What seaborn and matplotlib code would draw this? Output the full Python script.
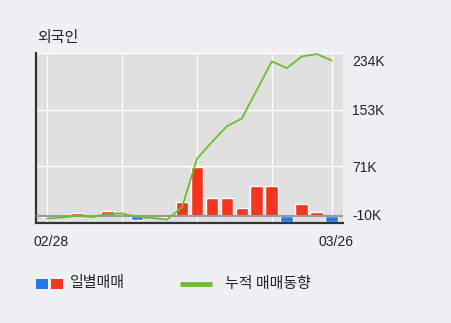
import matplotlib
matplotlib.use("Agg")
import matplotlib.pyplot as plt
import matplotlib.transforms as mtransforms
from matplotlib.patches import Rectangle
from matplotlib.lines import Line2D
import numpy as np
import pandas as pd
import seaborn as sns

# Trading days shown on the chart
dates = ["02/28", "03/02", "03/03", "03/04", "03/05", "03/06", "03/09",
         "03/10", "03/11", "03/12", "03/13", "03/16", "03/17", "03/18",
         "03/19", "03/20", "03/23", "03/24", "03/25", "03/26"]

# Daily net trading by foreign investors (thousand shares)
daily = [-1.0, 2.0, 4.5, 0.5, 7.8, 1.2, -5.0, -0.5, -0.8, 19.6,
         70.2, 25.4, 25.4, 11.0, 42.8, 42.8, -9.2, 16.8, 5.2, -9.2]

# Cumulative net trading (thousand shares)
cumulative = [-3.5, -2.0, 0.4, -1.5, 2.9, 3.8, -1.5, -2.9, -5.0, 12.6,
              82.3, 106.3, 128.9, 140.0, 181.0, 221.9, 212.3, 229.0, 232.5, 223.3]

# Right-hand axis ticks
ytick_values = [-10.0, 71.33, 152.67, 234.0]
ytick_labels = ["-10K", "71K", "153K", "234K"]
xtick_labels = ["02/28", "03/26"]

BLUE = "#2079ea"
RED = "#f2361e"
GREEN = "#6cbd2a"
FIG_BG = "#eef0f3"
AX_BG = "#e0e0e0"

sns.set_theme(style="white")
plt.rcParams["font.family"] = ["Liberation Sans", "Noto Sans CJK KR", "DejaVu Sans"]
KFONT = ["Noto Sans CJK KR", "DejaVu Sans"]

df = pd.DataFrame({
    "date": dates,
    "pos": np.arange(len(dates)),
    "daily": daily,
    "cumulative": cumulative,
})
df["side"] = np.where(df["daily"] < 0, "sell", "buy")

fig = plt.figure(figsize=(4.51, 3.23), dpi=100, facecolor=FIG_BG)
W, H = 451.0, 323.0
ax = fig.add_axes([36 / W, 1 - 223 / H, (343 - 36) / W, (223 - 53) / H])
ax.set_facecolor(AX_BG)

sns.barplot(data=df, x="date", y="daily", hue="side", order=dates,
            palette={"buy": RED, "sell": BLUE}, dodge=False, width=0.85,
            legend=False, saturation=1, ax=ax, zorder=2)

ax.axhline(0, color="#9a9a9a", lw=1.6, zorder=3)

sns.lineplot(data=df, x="pos", y="cumulative", color=GREEN, lw=1.3,
             ax=ax, zorder=4)

ax.set_xlim(-0.755, len(dates) - 1 + 0.755)
ax.set_ylim(-10, 234)

# grid
for gx in [0, 5, 10, 15, len(dates) - 1]:
    ax.axvline(gx, color="white", lw=1.0, zorder=1)
for gy in ytick_values[1:]:
    ax.axhline(gy, color="white", lw=1.0, zorder=1)

# spines
for s in ["top", "right"]:
    ax.spines[s].set_visible(False)
ax.spines["left"].set_color("#333333")
ax.spines["left"].set_linewidth(1.6)
ax.spines["bottom"].set_color("#333333")
ax.spines["bottom"].set_linewidth(1.6)

# y ticks on the right
ax.yaxis.tick_right()
ax.set_yticks(ytick_values)
ax.set_yticklabels(ytick_labels)
ax.tick_params(axis="y", length=0, pad=6.5, labelsize=10, labelcolor="#222222")
ylabels = ax.get_yticklabels()
ylabels[0].set_transform(ylabels[0].get_transform() +
                         mtransforms.ScaledTranslation(0, 8.5 / 100, fig.dpi_scale_trans))
ylabels[-1].set_transform(ylabels[-1].get_transform() +
                          mtransforms.ScaledTranslation(0, -7 / 100, fig.dpi_scale_trans))

# x ticks: first and last day
ax.set_xticks([0, len(dates) - 1])
ax.set_xticklabels(xtick_labels)
ax.tick_params(axis="x", length=0, pad=9, labelsize=10, labelcolor="#222222")
for lab in ax.get_xticklabels():
    lab.set_transform(lab.get_transform() +
                      mtransforms.ScaledTranslation(4 / 100, 0, fig.dpi_scale_trans))
ax.set_xlabel("")
ax.set_ylabel("")

# title
fig.text(37 / W, 1 - 38 / H, "외국인", family=KFONT, fontsize=10.8,
         color="#222222", va="center", ha="left")

# legend
def px_rect(x0, y0, x1, y1, color):
    fig.add_artist(Rectangle((x0 / W, 1 - y1 / H), (x1 - x0) / W, (y1 - y0) / H,
                             transform=fig.transFigure, color=color, lw=0))

px_rect(36, 278.5, 48, 288.5, BLUE)
px_rect(51, 278.5, 63, 288.5, RED)
fig.text(70 / W, 1 - 283.5 / H, "일별매매", family=KFONT, fontsize=10.8,
         color="#222222", va="center", ha="left")
fig.add_artist(Line2D([180 / W, 212 / W], [1 - 283.5 / H, 1 - 283.5 / H],
                      transform=fig.transFigure, color=GREEN, lw=3.4,
                      solid_capstyle="butt"))
fig.text(225 / W, 1 - 283.5 / H, "누적 매매동향", family=KFONT, fontsize=10.8,
         color="#222222", va="center", ha="left")

fig.savefig("out.png", dpi=100, facecolor=FIG_BG)
